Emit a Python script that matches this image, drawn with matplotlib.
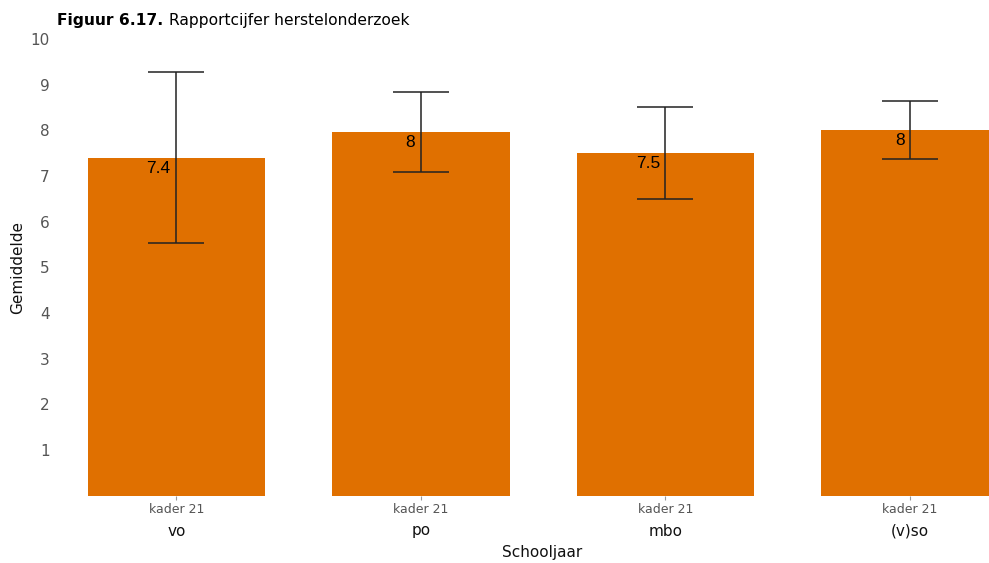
import matplotlib.pyplot as plt
import matplotlib.transforms as mtransforms

# data
groups = ['vo', 'po', 'mbo', '(v)so']
sublabels = ['kader 21', 'kader 21', 'kader 21', 'kader 21']
means = [7.4, 7.96, 7.5, 8.01]
err_low = [5.53, 7.08, 6.49, 7.37]
err_high = [9.28, 8.84, 8.51, 8.64]
value_labels = ['7.4', '8', '7.5', '8']

bar_color = '#E07000'

fig = plt.figure(figsize=(9.89, 5.63), dpi=100)
ax = fig.add_axes([0.0546, 0.1195, 0.9454, 0.8112])

x = list(range(len(groups)))
ax.bar(x, means, width=0.725, color=bar_color, zorder=1)

yerr = [[m - lo for m, lo in zip(means, err_low)],
        [hi - m for m, hi in zip(means, err_high)]]
ax.errorbar(x, means, yerr=yerr, fmt='none', ecolor='#222222',
            elinewidth=1.1, capsize=20, capthick=1.1, zorder=3)

# value labels, just under the bar top, left of the error line
for xi, m, lab in zip(x, means, value_labels):
    ax.annotate(lab, (xi, m), xytext=(-4, -2), textcoords='offset points',
                ha='right', va='top', fontsize=12.5, color='black',
                family=['Liberation Sans', 'DejaVu Sans'], zorder=4)

ax.set_xlim(-0.5, 3.323)
ax.set_ylim(0, 10)
ax.set_yticks(range(1, 11))
ax.tick_params(axis='y', length=0, labelsize=11, labelcolor='#555555', pad=3)
ax.set_xticks(x)
ax.set_xticklabels(sublabels)
ax.tick_params(axis='x', length=3, color='#999999', labelsize=9,
               labelcolor='#555555', pad=2)

# group names under the sublabels
trans = mtransforms.blended_transform_factory(ax.transData, fig.transFigure)
for xi, g in zip(x, groups):
    ax.text(xi, 1 - 531 / 563, g, transform=trans, ha='center', va='center',
            fontsize=11, color='#111111')

for s in ax.spines.values():
    s.set_visible(False)

fig.text(542 / 989, 1 - 552 / 563, 'Schooljaar',
         ha='center', va='center', fontsize=11, color='#111111')
fig.text(18 / 989, 1 - 267 / 563, 'Gemiddelde', rotation=90,
         ha='center', va='center', fontsize=11, color='#111111')

fig.text(57 / 989, 1 - 20 / 563, 'Figuur 6.17.', fontweight='bold',
         ha='left', va='center', fontsize=11.2, color='black')
fig.text(169 / 989, 1 - 20 / 563, 'Rapportcijfer herstelonderzoek',
         ha='left', va='center', fontsize=11.2, color='black')

fig.savefig('out.png', dpi=100)
